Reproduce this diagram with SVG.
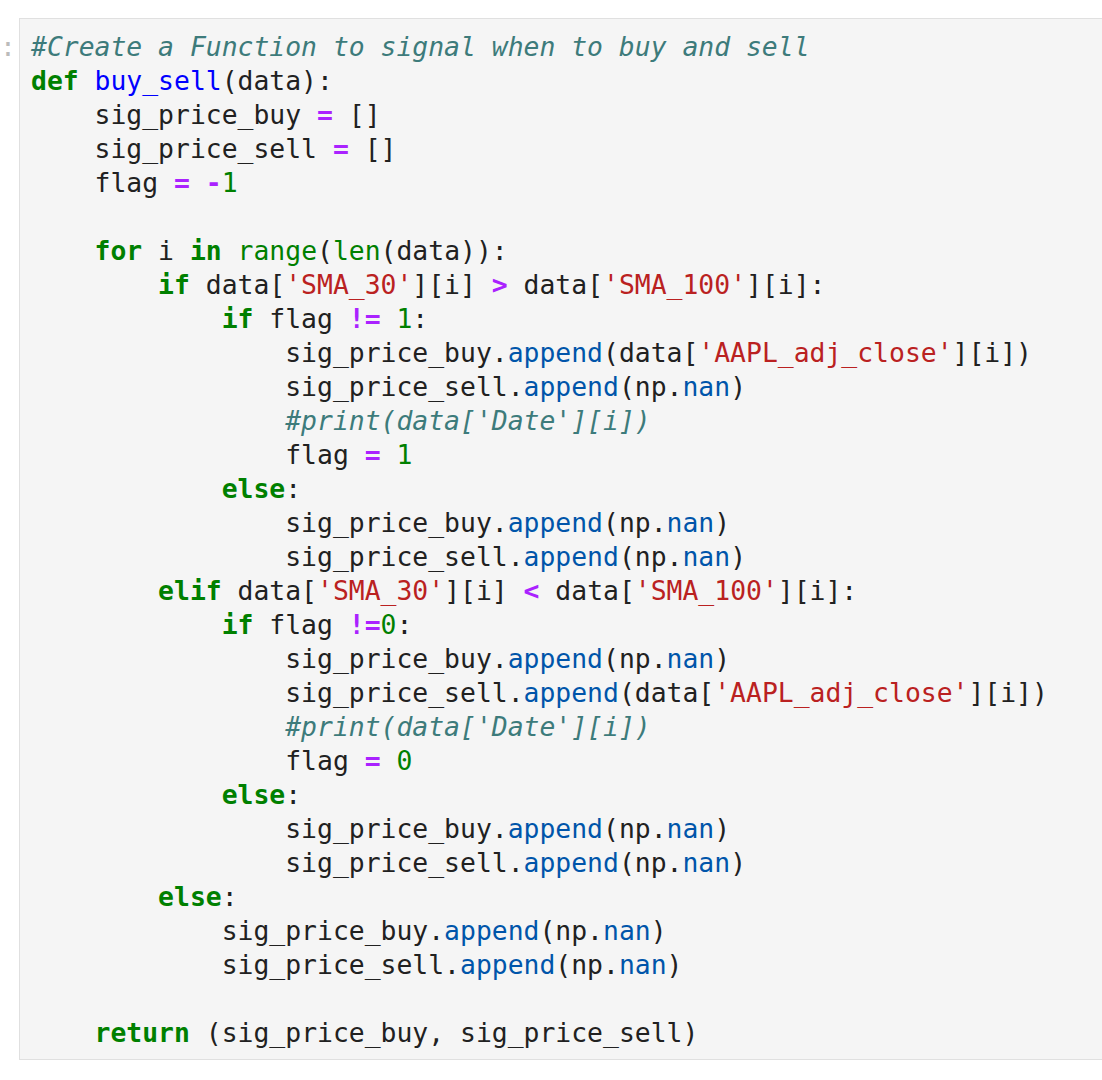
<svg xmlns="http://www.w3.org/2000/svg" width="1102" height="1080" viewBox="0 0 1102 1080">
<style>
text{font-family:"DejaVu Sans Mono","Liberation Mono",monospace;font-size:26.4px;fill:#212121;white-space:pre}
.c{fill:#3D7B7B;font-style:italic}.k{fill:#008000;font-weight:bold}.f{fill:#0000FF}.o{fill:#AA22FF;font-weight:bold}.n{fill:#008000}.s{fill:#BA2121}.p{fill:#0055AA}
</style>
<rect width="1102" height="1080" fill="#fff"/>
<rect x="19.5" y="18.5" width="1090" height="1041" fill="#f5f5f5" stroke="#e0e0e0"/>
<text x="0" y="56" style="fill:#bbb">:</text>
<g id="code" xml:space="preserve">
<text x="31" y="56"><tspan class="c">#Create a Function to signal when to buy and sell</tspan></text>
<text x="31" y="90"><tspan class="k">def</tspan> <tspan class="f">buy_sell</tspan>(data):</text>
<text x="31" y="124">    sig_price_buy <tspan class="o">=</tspan> []</text>
<text x="31" y="158">    sig_price_sell <tspan class="o">=</tspan> []</text>
<text x="31" y="192">    flag <tspan class="o">=</tspan> <tspan class="o">-</tspan><tspan class="n">1</tspan></text>
<text x="31" y="260">    <tspan class="k">for</tspan> i <tspan class="k">in</tspan> <tspan class="n">range</tspan>(<tspan class="n">len</tspan>(data)):</text>
<text x="31" y="294">        <tspan class="k">if</tspan> data[<tspan class="s">'SMA_30'</tspan>][i] <tspan class="o">&gt;</tspan> data[<tspan class="s">'SMA_100'</tspan>][i]:</text>
<text x="31" y="328">            <tspan class="k">if</tspan> flag <tspan class="o">!=</tspan> <tspan class="n">1</tspan>:</text>
<text x="31" y="362">                sig_price_buy.<tspan class="p">append</tspan>(data[<tspan class="s">'AAPL_adj_close'</tspan>][i])</text>
<text x="31" y="396">                sig_price_sell.<tspan class="p">append</tspan>(np.<tspan class="p">nan</tspan>)</text>
<text x="31" y="430">                <tspan class="c">#print(data['Date'][i])</tspan></text>
<text x="31" y="464">                flag <tspan class="o">=</tspan> <tspan class="n">1</tspan></text>
<text x="31" y="498">            <tspan class="k">else</tspan>:</text>
<text x="31" y="532">                sig_price_buy.<tspan class="p">append</tspan>(np.<tspan class="p">nan</tspan>)</text>
<text x="31" y="566">                sig_price_sell.<tspan class="p">append</tspan>(np.<tspan class="p">nan</tspan>)</text>
<text x="31" y="600">        <tspan class="k">elif</tspan> data[<tspan class="s">'SMA_30'</tspan>][i] <tspan class="o">&lt;</tspan> data[<tspan class="s">'SMA_100'</tspan>][i]:</text>
<text x="31" y="634">            <tspan class="k">if</tspan> flag <tspan class="o">!=</tspan><tspan class="n">0</tspan>:</text>
<text x="31" y="668">                sig_price_buy.<tspan class="p">append</tspan>(np.<tspan class="p">nan</tspan>)</text>
<text x="31" y="702">                sig_price_sell.<tspan class="p">append</tspan>(data[<tspan class="s">'AAPL_adj_close'</tspan>][i])</text>
<text x="31" y="736">                <tspan class="c">#print(data['Date'][i])</tspan></text>
<text x="31" y="770">                flag <tspan class="o">=</tspan> <tspan class="n">0</tspan></text>
<text x="31" y="804">            <tspan class="k">else</tspan>:</text>
<text x="31" y="838">                sig_price_buy.<tspan class="p">append</tspan>(np.<tspan class="p">nan</tspan>)</text>
<text x="31" y="872">                sig_price_sell.<tspan class="p">append</tspan>(np.<tspan class="p">nan</tspan>)</text>
<text x="31" y="906">        <tspan class="k">else</tspan>:</text>
<text x="31" y="940">            sig_price_buy.<tspan class="p">append</tspan>(np.<tspan class="p">nan</tspan>)</text>
<text x="31" y="974">            sig_price_sell.<tspan class="p">append</tspan>(np.<tspan class="p">nan</tspan>)</text>
<text x="31" y="1042">    <tspan class="k">return</tspan> (sig_price_buy, sig_price_sell)</text>
</g>
</svg>
